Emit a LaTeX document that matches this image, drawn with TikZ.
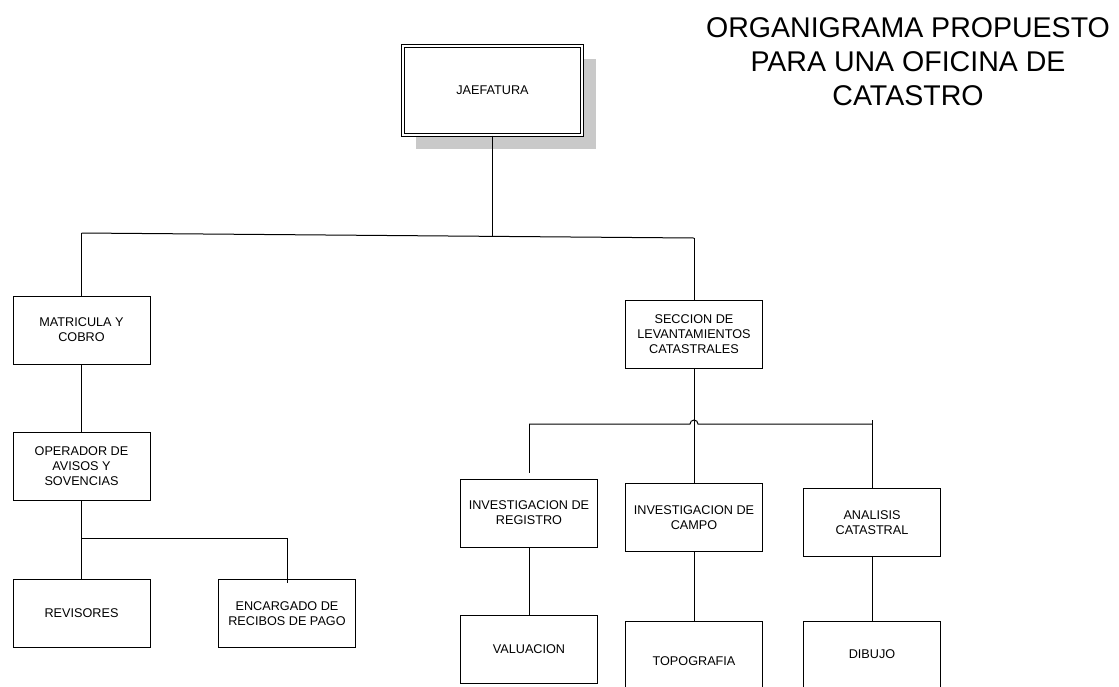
\documentclass[tikz,border=0pt]{standalone}
\usepackage{fontspec}
\setmainfont{Liberation Sans}
\usetikzlibrary{backgrounds}
\begin{document}
\begin{tikzpicture}[x=0.75pt,y=-0.75pt,
  box/.style={draw=black, line width=0.75pt, fill=white, align=center,
    font=\fontsize{9.5}{11.3}\selectfont, inner sep=1pt,
    minimum width=102.75pt, minimum height=51pt},
  link/.style={draw=black, line width=0.75pt},
  titletext/.style={align=center, font=\fontsize{21.4}{25.5}\selectfont}]
\useasboundingbox (0,0) rectangle (1119,686);

% title
\node[titletext] (title) at (908,62) {ORGANIGRAMA PROPUESTO\\PARA UNA OFICINA DE\\CATASTRO};

% head office with double border and shadow
\node[box, double, double distance=1.5pt, minimum width=134.25pt, minimum height=66.75pt] (jef) at (492.5,90.5) {JAEFATURA};
\begin{scope}[on background layer]
  \fill[black!21] ([shift={(13,13)}]jef.south west) rectangle ([shift={(13,13)}]jef.north east);
\end{scope}

% left branch
\node[box] (mat) at (81.5,330) {MATRICULA Y\\COBRO};
\node[box] (ope) at (81.5,466.5) {OPERADOR DE\\AVISOS Y\\SOVENCIAS};
\node[box] (rev) at (81.5,613.5) {REVISORES};
\node[box] (enc) at (287,613.5) {ENCARGADO DE\\RECIBOS DE PAGO};

% right branch
\node[box] (sec) at (694,334) {SECCION DE\\LEVANTAMIENTOS\\CATASTRALES};
\node[box] (ireg) at (529,513) {INVESTIGACION DE\\REGISTRO};
\node[box] (icam) at (694,517.5) {INVESTIGACION DE\\CAMPO};
\node[box] (ana) at (872,522.5) {ANALISIS\\CATASTRAL};
\node[box] (val) at (529,649.5) {VALUACION};
\node[box, minimum height=60pt] (topo) at (694,661) {TOPOGRAFIA};
\node[box, minimum height=49.5pt] (dib) at (872,654) {DIBUJO};

% top level connectors
\coordinate (tl) at (81.5,233);
\coordinate (tr) at (694,238);
\coordinate (tj) at (492.5,236.3);
\draw[link] (jef.south) -- (tj);
\draw[link] (tl) -- (tr);
\draw[link] (tl) -- (mat.north);
\draw[link] (tr) -- (sec.north);

% left branch connectors
\coordinate (ob) at (81.5,538);
\draw[link] (mat.south) -- (ope.north);
\draw[link] (ope.south) -- (rev.north);
\draw[link] (ob) -| ([yshift=-3pt]enc.north);

% right branch connectors (the crossbar hops over the centre line)
\coordinate (hl) at (529,424);
\coordinate (hr) at (872,424);
\draw[link] (sec.south) -- (icam.north);
\draw[link] (hl) -- (690,424) arc[start angle=180, end angle=360, radius=4] -- (hr);
\draw[link] (hl) -- ([yshift=4pt]ireg.north);
\draw[link] ([yshift=3pt]hr) -- (ana.north);
\draw[link] (ireg.south) -- (val.north);
\draw[link] (icam.south) -- (topo.north);
\draw[link] (ana.south) -- (dib.north);
\end{tikzpicture}
\end{document}
